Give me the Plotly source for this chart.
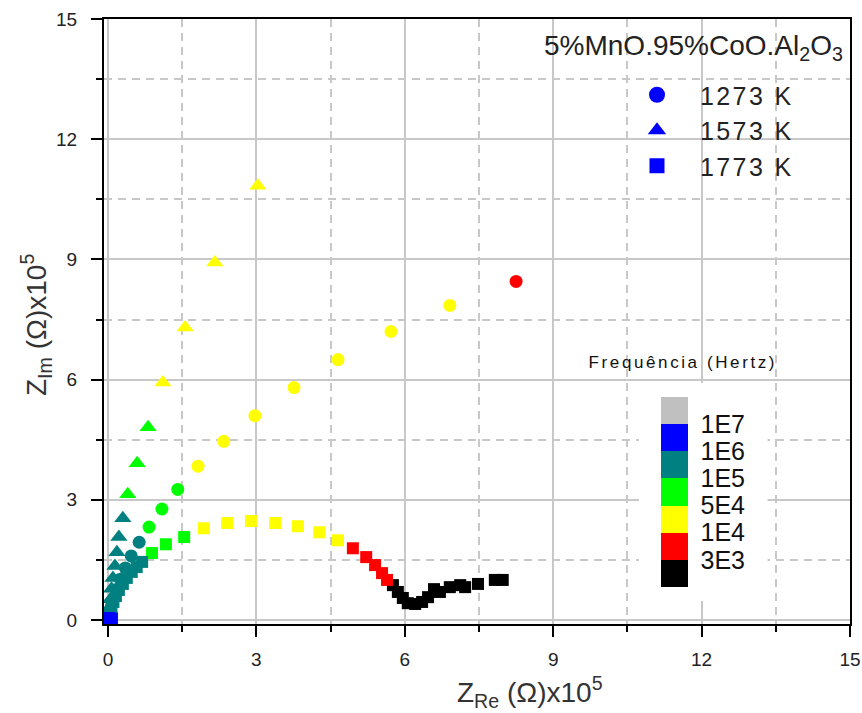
import plotly.graph_objects as go

# Frequency bands: 0 <3E3 black, 1 red, 2 yellow, 3 green, 4 teal, 5 blue, 6 >1E7 gray
band_colors = ["#000000", "#FF0000", "#FFFF00", "#00FF00", "#008080", "#0000FF", "#C0C0C0"]
band_tickvals = [1, 2, 3, 4, 5, 6]
band_ticktext = ["3E3", "1E4", "5E4", "1E5", "1E6", "1E7"]

# 1273 K (circles)
c1273_re = [8.25, 6.91, 5.72, 4.65, 3.76, 2.97, 2.34, 1.82, 1.41, 1.09, 0.83,
            0.63, 0.47, 0.35, 0.25, 0.17, 0.10, 0.05, 0.02]
c1273_im = [8.45, 7.85, 7.20, 6.50, 5.80, 5.10, 4.46, 3.84, 3.26, 2.77, 2.32,
            1.94, 1.60, 1.30, 1.02, 0.76, 0.50, 0.28, 0.10]
c1273_band = [1, 2, 2, 2, 2, 2, 2, 2, 3, 3, 3, 4, 4, 4, 4, 4, 4, 4, 5]

# 1573 K (triangles)
c1573_re = [3.03, 2.16, 1.56, 1.11, 0.81, 0.59, 0.40,
            0.30, 0.22, 0.18, 0.14, 0.10, 0.07, 0.05, 0.03, 0.01]
c1573_im = [10.84, 8.92, 7.30, 5.93, 4.81, 3.91, 3.14,
            2.54, 2.07, 1.69, 1.35, 1.05, 0.78, 0.52, 0.28, 0.08]
c1573_band = [2, 2, 2, 2, 3, 3, 3, 4, 4, 4, 4, 4, 4, 4, 4, 5]

# 1773 K (squares)
c1773_re = [7.98, 7.82, 7.48, 7.22, 7.12, 6.91, 6.71, 6.59, 6.47, 6.35, 6.21, 6.06, 5.96, 5.86, 5.76,
            5.64, 5.54, 5.40, 5.22, 4.95,
            4.65, 4.27, 3.84, 3.38, 2.89, 2.41, 1.94,
            1.54, 1.17, 0.89,
            0.69, 0.58, 0.48, 0.38, 0.30, 0.22, 0.16, 0.11, 0.07, 0.04,
            0.03, 0.08]
c1773_im = [1.00, 1.00, 0.90, 0.82, 0.87, 0.82, 0.70, 0.77, 0.57, 0.45, 0.40, 0.42, 0.55, 0.70, 0.87,
            1.00, 1.17, 1.37, 1.57, 1.79,
            1.99, 2.19, 2.34, 2.42, 2.47, 2.42, 2.29,
            2.07, 1.89, 1.67,
            1.45, 1.32, 1.20, 1.05, 0.90, 0.75, 0.60, 0.45, 0.30, 0.17,
            0.05, 0.03]
c1773_band = [0] * 15 + [1] * 5 + [2] * 7 + [3] * 3 + [4] * 10 + [5] * 2

series_names = ["1273 K", "1573 K", "1773 K"]
legend_title = "5%MnO.95%CoO.Al<sub>2</sub>O<sub>3</sub>"
cb_title = "Frequência (Hertz)"
x_title = "Z<sub>Re</sub> (Ω)x10<sup>5</sup>"
y_title = "Z<sub>Im</sub> (Ω)x10<sup>5</sup>"
axis_ticks = [0, 3, 6, 9, 12, 15]

n = len(band_colors)
colorscale = []
for i, c in enumerate(band_colors):
    colorscale.append([i / n, c])
    colorscale.append([(i + 1) / n, c])

FONT = "Arial, Liberation Sans, sans-serif"

# plot area in pixels
L, R, T, B = 104, 850, 19, 624
W, H = R - L, B - T
def px(xp):
    return (xp - L) / W
def py(yp):
    return (B - yp) / H

fig = go.Figure()

def add_series(xs, ys, bands, symbol, size, showscale):
    marker = dict(symbol=symbol, size=size, color=[b + 0.5 for b in bands],
                  colorscale=colorscale, cmin=0, cmax=n, showscale=showscale,
                  line=dict(width=0))
    if showscale:
        ypad = 14
        marker["colorbar"] = dict(
            thicknessmode="pixels", thickness=27,
            lenmode="pixels", len=190 + 2 * ypad,
            x=px(661 - 22), xanchor="left", xpad=22,
            y=py(492), yanchor="middle", ypad=ypad,
            tickvals=band_tickvals, ticktext=band_ticktext,
            ticks="outside", ticklen=8, tickcolor="rgba(0,0,0,0)",
            tickfont=dict(family=FONT, size=25, color="#111"),
            outlinewidth=0, bgcolor="white", borderwidth=0,
        )
    fig.add_trace(go.Scatter(x=xs, y=ys, mode="markers", marker=marker, showlegend=False,
                             hoverinfo="x+y"))

add_series(c1273_re, c1273_im, c1273_band, "circle", 13, False)
add_series(c1573_re, c1573_im, c1573_band, "triangle-up", 15, False)
add_series(c1773_re, c1773_im, c1773_band, "square", 12, True)

for name, sym, sz in zip(series_names, ["circle", "triangle-up", "square"], [16, 18, 15]):
    fig.add_trace(go.Scatter(x=[None], y=[None], mode="markers", name=name,
                             marker=dict(symbol=sym, size=sz, color="#0000FF")))

axis_common = dict(
    tickmode="array", tickvals=axis_ticks,
    ticks="outside", ticklen=11, tickwidth=2, tickcolor="black",
    showline=True, linecolor="black", linewidth=2, mirror=True,
    showgrid=True, gridcolor="#c8c8c8", gridwidth=1.5, zeroline=False,
    minor=dict(dtick=1.5, tick0=0, ticks="outside", ticklen=6, tickwidth=2, tickcolor="black",
               showgrid=True, gridcolor="#c8c8c8", gridwidth=1.5, griddash="8px,6px"),
    tickfont=dict(family=FONT, size=19, color="#222"),
)

fig.update_xaxes(**axis_common, range=[-4 / 49.47, 15], ticklabelstandoff=6)
fig.update_yaxes(**axis_common, range=[-4 / 40.0, 15], ticklabelstandoff=10)

fig.update_layout(
    width=862, height=713,
    margin=dict(l=L, r=862 - R, t=T, b=713 - B, autoexpand=False),
    paper_bgcolor="white", plot_bgcolor="white",
    showlegend=True,
    legend=dict(x=px(614), xanchor="left", y=py(72), yanchor="top",
                bgcolor="rgba(0,0,0,0)", borderwidth=0, itemwidth=76,
                font=dict(family=FONT, size=25, color="#222")),
    annotations=[
        dict(text=legend_title, xref="paper", yref="paper",
             x=px(845), y=py(47), xanchor="right", yanchor="middle",
             showarrow=False, font=dict(family=FONT, size=28, color="#222")),
        dict(text=cb_title, xref="paper", yref="paper",
             x=px(683), y=py(362), xanchor="center", yanchor="middle",
             showarrow=False, font=dict(family=FONT, size=17, color="#111")),
        dict(text=x_title, xref="paper", yref="paper",
             x=px(530), y=py(692), xanchor="center", yanchor="middle",
             showarrow=False, font=dict(family=FONT, size=28, color="#333")),
        dict(text=y_title, xref="paper", yref="paper", textangle=-90,
             x=px(36), y=py(325), xanchor="center", yanchor="middle",
             showarrow=False, font=dict(family=FONT, size=28, color="#333")),
    ],
)

post = """
document.body.style.margin='0px';
document.querySelectorAll('.legend [clip-path]').forEach(function(e){ e.removeAttribute('clip-path'); });
document.querySelectorAll('text').forEach(function(t){
  var s = t.textContent;
  if (s.indexOf('Frequ') === 0) { t.style.letterSpacing = '2.6px'; }
  if (/^1[257]73 K$/.test(s)) { t.style.letterSpacing = '2.4px'; }
});
"""
fig.write_html("out.html", post_script=post, config={"displayModeBar": False})
